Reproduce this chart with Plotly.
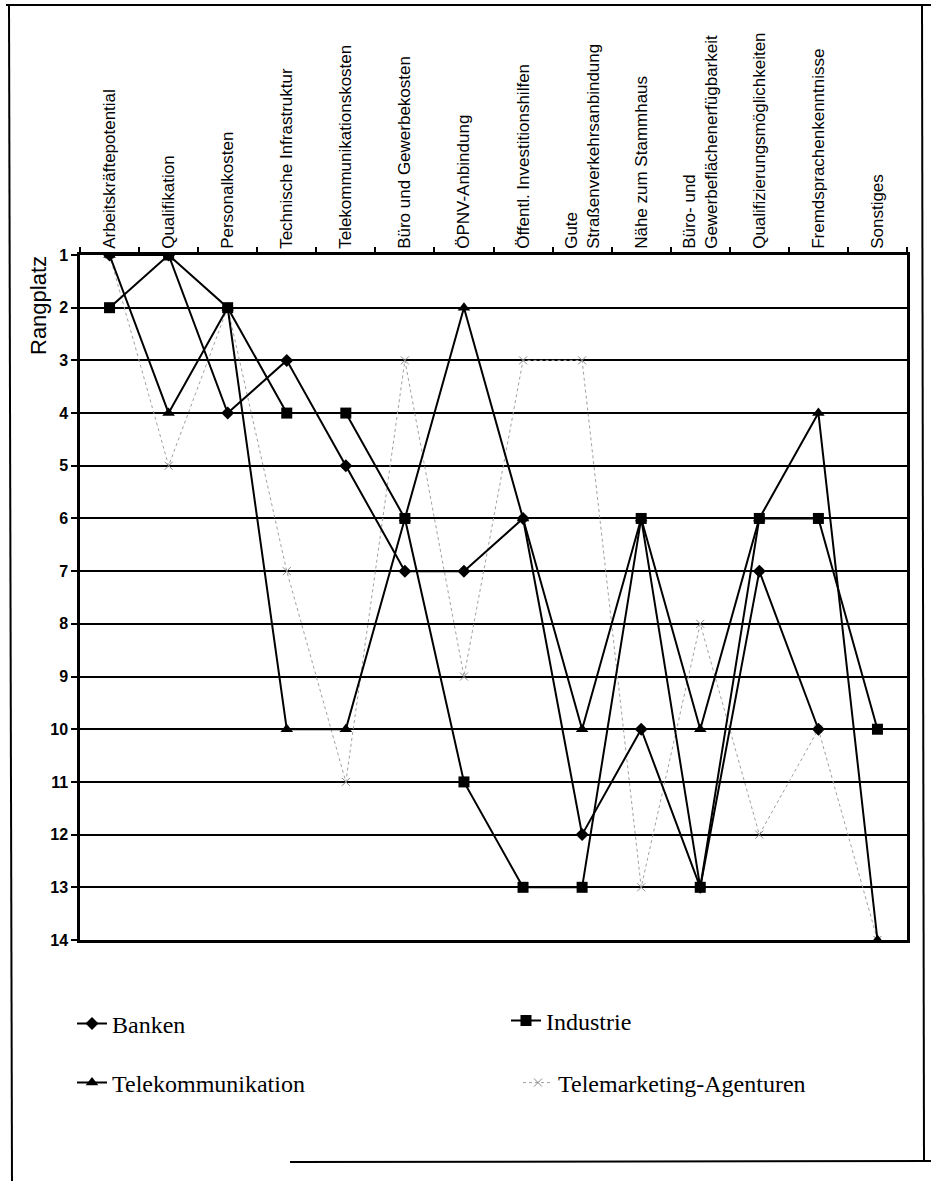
import plotly.graph_objects as go

# Standortfaktoren (Kategorien der x-Achse)
categories = [
    "Arbeitskräftepotential",
    "Qualifikation",
    "Personalkosten",
    "Technische Infrastruktur",
    "Telekommunikationskosten",
    "Büro und Gewerbekosten",
    "ÖPNV-Anbindung",
    "Öffentl. Investitionshilfen",
    "Gute<br>Straßenverkehrsanbindung",
    "Nähe zum Stammhaus",
    "Büro- und<br>Gewerbeflächenerfügbarkeit",
    "Qualifizierungsmöglichkeiten",
    "Fremdsprachenkenntnisse",
    "Sonstiges",
]

# Rangplätze je Branche
banken = [1, 1, 4, 3, 5, 7, 7, 6, 12, 10, 13, 7, 10, None]
industrie = [2, 1, 2, 4, 4, 6, 11, 13, 13, 6, 13, 6, 6, 10]
telekommunikation = [1, 4, 2, 10, 10, 6, 2, 6, 10, 6, 10, 6, 4, 14]
telemarketing = [1, 5, 2, 7, 11, 3, 9, 3, 3, 13, 8, 12, 10, 14]

y_ticks = list(range(1, 15))

W, H = 931, 1181
ML, MR, MT, MB = 80, 24, 255, 241
PW, PH = W - ML - MR, H - MT - MB


def px_x(p):
    return (p - ML) / PW


def px_y(p):
    return 1 - (p - MT) / PH


fig = go.Figure()

fig.add_trace(go.Scatter(
    x=categories, y=telemarketing, name="Telemarketing-Agenturen",
    mode="lines+markers",
    line=dict(color="#a0a0a0", width=1, dash="dot"),
    marker=dict(symbol="x-thin", size=8, line=dict(color="#8a8a8a", width=1)),
    legend="legend4",
))
fig.add_trace(go.Scatter(
    x=categories, y=banken, name="Banken",
    mode="lines+markers",
    line=dict(color="black", width=2),
    marker=dict(symbol="diamond", size=10, color="black"),
    legend="legend",
))
fig.add_trace(go.Scatter(
    x=categories, y=industrie, name="Industrie",
    mode="lines+markers",
    line=dict(color="black", width=2),
    marker=dict(symbol="square", size=11, color="black"),
    legend="legend2",
))
fig.add_trace(go.Scatter(
    x=categories, y=telekommunikation, name="Telekommunikation",
    mode="lines+markers",
    line=dict(color="black", width=2),
    marker=dict(symbol="triangle-up", size=11, color="black"),
    legend="legend3",
))

legend_font = dict(family="Liberation Serif, Times New Roman, serif", size=24, color="black")


def legend_at(x_px, y_px):
    return dict(
        x=px_x(x_px), y=px_y(y_px), xanchor="left", yanchor="middle",
        xref="paper", yref="paper", font=legend_font,
        bgcolor="rgba(0,0,0,0)", itemwidth=30, tracegroupgap=0,
    )


fig.update_layout(
    width=W, height=H,
    margin=dict(l=ML, r=MR, t=MT, b=MB),
    paper_bgcolor="white", plot_bgcolor="white",
    font=dict(family="Liberation Sans, Arial, sans-serif", color="black"),
    showlegend=True,
    legend=legend_at(72, 1024),
    legend2=legend_at(506, 1021),
    legend3=legend_at(72, 1083),
    legend4=legend_at(518, 1083),
    xaxis=dict(
        type="category", categoryorder="array", categoryarray=categories,
        side="top", range=[-0.5, 13.5],
        tickangle=-90, tickfont=dict(size=17, color="black"),
        ticks="outside", tickson="boundaries", ticklen=5, tickwidth=1.5,
        tickcolor="black",
        showline=True, linecolor="black", linewidth=2.5, mirror=True,
        showgrid=False, zeroline=False, fixedrange=True,
    ),
    yaxis=dict(
        range=[14, 1], tickvals=y_ticks, ticktext=[str(v) for v in y_ticks],
        tickfont=dict(size=16, color="black", family="Liberation Sans, Arial, sans-serif", weight="bold"),
        ticks="outside", ticklen=6, tickwidth=1.5, tickcolor="black",
        showline=True, linecolor="black", linewidth=2.5, mirror=True,
        showgrid=True, gridcolor="black", gridwidth=2.2,
        zeroline=False, fixedrange=True,
    ),
)

# Achsentitel oben links an der y-Achse
fig.add_annotation(
    text="Rangplatz", textangle=-90, showarrow=False,
    xref="paper", yref="paper", x=px_x(38), y=px_y(306),
    xanchor="center", yanchor="middle",
    font=dict(size=22, color="black", family="Liberation Sans, Arial, sans-serif"),
)

# Rahmen um die gesamte Abbildung
frame = dict(type="line", xref="paper", yref="paper", line=dict(color="black", width=2))
fig.add_shape(**frame, x0=px_x(6), x1=px_x(931), y0=px_y(5), y1=px_y(5))
fig.add_shape(**frame, x0=px_x(9), x1=px_x(12), y0=px_y(5), y1=px_y(1181))
fig.add_shape(**frame, x0=px_x(922), x1=px_x(924), y0=px_y(5), y1=px_y(1162))
fig.add_shape(**frame, x0=px_x(290), x1=px_x(931), y0=px_y(1162), y1=px_y(1161))

fig.write_html("out.html")
